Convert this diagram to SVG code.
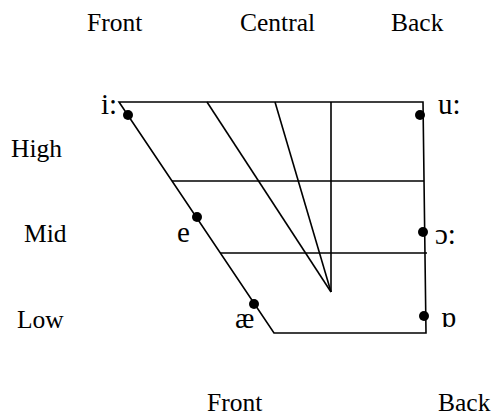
<svg xmlns="http://www.w3.org/2000/svg" width="493" height="417" viewBox="0 0 493 417">
<style>
text{font-family:"Liberation Serif","Times New Roman",serif;font-size:25.5px;fill:#000}
text.p{font-size:29px}
.l{stroke:#000;stroke-width:1.6;fill:none}
.d{fill:#000}
</style>
<rect width="493" height="417" fill="#fff"/>
<g id="labels">
<text x="87" y="31">Front</text>
<text x="240" y="31">Central</text>
<text x="391" y="31">Back</text>
<text x="11" y="157">High</text>
<text x="24" y="242">Mid</text>
<text x="17" y="328">Low</text>
<text x="207" y="411">Front</text>
<text x="438" y="411">Back</text>
</g>
<g id="connectors">
<path class="l" d="M119,102 L423,102 L426,333 L274,333 Z"/>
<line class="l" x1="172" y1="181" x2="424" y2="181"/>
<line class="l" x1="220" y1="253" x2="427" y2="253"/>
<line class="l" x1="207" y1="102" x2="331" y2="292"/>
<line class="l" x1="275" y1="102" x2="331" y2="292"/>
<line class="l" x1="331" y1="102" x2="331" y2="292"/>
</g>
<g id="i"><circle class="d" cx="128" cy="115" r="5"/><text class="p" x="101" y="114">i:</text></g>
<g id="e"><circle class="d" cx="197" cy="217" r="5"/><text class="p" x="177" y="242">e</text></g>
<g id="ae"><circle class="d" cx="254" cy="304" r="5"/><text class="p" x="235" y="328">æ</text></g>
<g id="u"><circle class="d" cx="420" cy="115" r="5"/><text class="p" x="438" y="114">u:</text></g>
<g id="o"><circle class="d" cx="423" cy="232" r="5"/><text class="p" x="435" y="244">ɔ:</text></g>
<g id="ao"><circle class="d" cx="424" cy="316" r="5"/><text class="p" x="441" y="327">ɒ</text></g>
</svg>
